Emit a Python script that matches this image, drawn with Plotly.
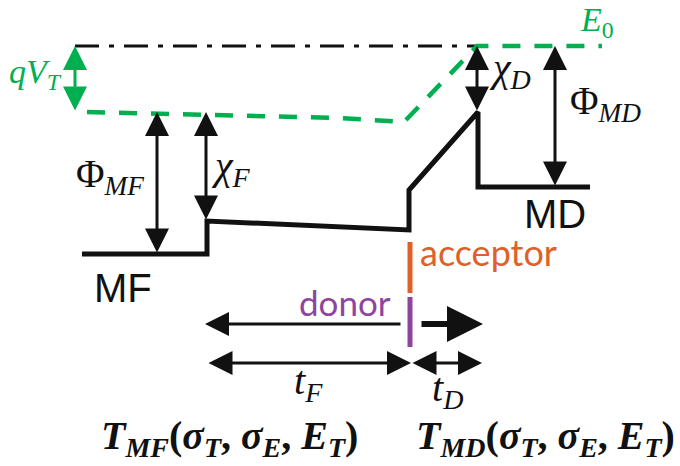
import plotly.graph_objects as go

# Energy band diagram: metal (MF) / ferroelectric / dielectric / metal (MD)
# Coordinates: position along the stack (x) and energy drawn downward (y).

# Conduction band edge through the stack
band_x = [82, 207, 207, 409, 409, 478, 478, 590]
band_y = [254, 254, 221, 230, 190, 112, 187, 187]

# Reference level (dash-dot) and vacuum level E0 (green dashed)
ref_x = [75, 477]
ref_y = [46, 46]
vac_x = [87, 340, 404, 477, 602]
vac_y = [112, 118, 122, 46, 46]

# Interface charge sheets
acceptor_x = [410, 410]
acceptor_y = [242, 293]
donor_x = [410, 410]
donor_y = [297, 347]

# Energy gaps marked by double arrows: (x, y_top, y_bottom)
gap_arrows = {
    "qVT": (75, 46, 112),
    "PhiMF": (157, 112, 254),
    "chiF": (206, 112, 221),
    "chiD": (477, 46, 112),
    "PhiMD": (555, 46, 187),
}

# Thickness markers: (x_start, x_end, y)
thick_F = (207, 411, 363)
thick_D = (411, 482, 363)
# Polarization arrows: (x_tail, x_head, y)
pol_left = (402, 205, 324)
pol_right = (420, 483, 324)

BLACK = "#111111"
GREEN = "#00B050"
ORANGE = "#E0602A"
PURPLE = "#8E44A0"
MATH = "Liberation Serif"
SANS = "Liberation Sans"

fig = go.Figure()

fig.add_trace(go.Scatter(x=ref_x, y=ref_y, mode="lines",
                         line=dict(color=BLACK, width=3, dash="24px,10px,5px,10px")))
fig.add_trace(go.Scatter(x=vac_x, y=vac_y, mode="lines",
                         line=dict(color=GREEN, width=4.5, dash="18px,14px")))
fig.add_trace(go.Scatter(x=band_x, y=band_y, mode="lines",
                         line=dict(color=BLACK, width=5)))
fig.add_trace(go.Scatter(x=acceptor_x, y=acceptor_y, mode="lines",
                         line=dict(color=ORANGE, width=5)))
fig.add_trace(go.Scatter(x=donor_x, y=donor_y, mode="lines",
                         line=dict(color=PURPLE, width=5)))


def arrow(x0, y0, x1, y1, color=BLACK, width=3, size=1.6, both=False):
    fig.add_annotation(x=x1, y=y1, ax=x0, ay=y0, xref="x", yref="y",
                       axref="x", ayref="y", text="", showarrow=True,
                       arrowhead=2, arrowsize=size, arrowwidth=width,
                       arrowcolor=color,
                       arrowside="end+start" if both else "end",
                       startarrowhead=2, startarrowsize=size)


for key, (gx, gy0, gy1) in gap_arrows.items():
    arrow(gx, gy1, gx, gy0, color=GREEN if key == "qVT" else BLACK, both=True)

arrow(thick_F[0], thick_F[2], thick_F[1], thick_F[2], both=True)
arrow(thick_D[0], thick_D[2], thick_D[1], thick_D[2], both=True)
arrow(pol_left[0], pol_left[2], pol_left[1], pol_left[2])
arrow(pol_right[0], pol_right[2], pol_right[1], pol_right[2], width=6, size=1.2)


def label(x, y, text, size, color=BLACK, family=MATH):
    fig.add_annotation(x=x, y=y, xref="x", yref="y", text=text, showarrow=False,
                       font=dict(family=family, size=size, color=color))


label(35, 74, "<i>qV<sub>T</sub></i>", 34, GREEN)
label(597, 22, "<i>E</i><sub>0</sub>", 34, GREEN)
label(110, 176, "Φ<sub><i>MF</i></sub>", 39)
label(231, 168, "<i>χ<sub>F</sub></i>", 40)
label(510, 70, "<i>χ<sub>D</sub></i>", 40)
label(605, 103, "Φ<sub><i>MD</i></sub>", 39)
label(555, 214, "MD", 40, family=SANS)
label(123, 288, "MF", 40, family=SANS)
label(488, 252, "acceptor", 36, ORANGE, family="Lato")
label(345, 302, "donor", 35, PURPLE, family="Lato")
label(308, 383, "<i>t<sub>F</sub></i>", 40)
label(447, 390, "<i>t<sub>D</sub></i>", 40)
label(229, 438, "<b><i>T<sub>MF</sub></i>(<i>σ<sub>T</sub></i>, <i>σ<sub>E</sub></i>, <i>E<sub>T</sub></i>)</b>", 40)
label(545, 438, "<b><i>T<sub>MD</sub></i>(<i>σ<sub>T</sub></i>, <i>σ<sub>E</sub></i>, <i>E<sub>T</sub></i>)</b>", 40)

fig.update_layout(
    width=680, height=466,
    margin=dict(l=0, r=0, t=0, b=0),
    paper_bgcolor="white", plot_bgcolor="white",
    showlegend=False,
    xaxis=dict(range=[0, 680], visible=False, fixedrange=True),
    yaxis=dict(range=[466, 0], visible=False, fixedrange=True),
)

fig.write_html("out.html")
